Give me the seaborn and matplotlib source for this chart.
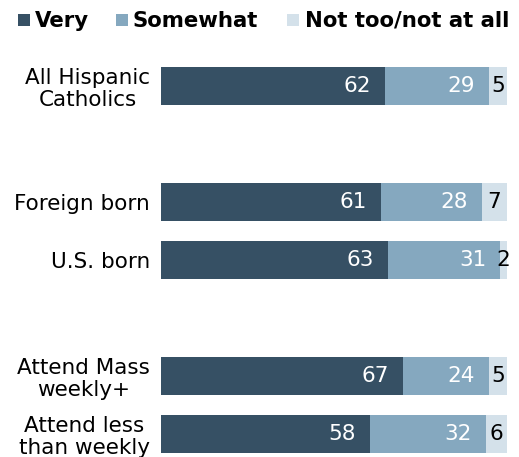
import matplotlib
matplotlib.use("Agg")
import matplotlib.pyplot as plt
import seaborn as sns
import pandas as pd
import numpy as np
from matplotlib.patches import Rectangle

categories = ["All Hispanic\nCatholics", "Foreign born", "U.S. born", "Attend Mass\nweekly+", "Attend less\nthan weekly"]
positions = [0, 2, 3, 5, 6]
very = [62, 61, 63, 67, 58]
somewhat = [29, 28, 31, 24, 32]
not_too = [5, 7, 2, 5, 6]
series_names = ["Very", "Somewhat", "Not too/not at all"]
colors = ["#365064", "#85a8bf", "#d4e1ea"]

sns.set_theme(style="white")
plt.rcParams['font.family'] = ['DejaVu Sans']

fig = plt.figure(figsize=(5.19, 4.57), dpi=100)
W, H = 519, 457
ax_left, ax_right = 161, 509
ax_top, ax_bottom = 57, 457
ax = fig.add_axes([ax_left / W, 1 - ax_bottom / H, (ax_right - ax_left) / W, (ax_bottom - ax_top) / H])

df = pd.DataFrame({"pos": positions, "very": very, "somewhat": somewhat, "not_too": not_too})
df["c2"] = df["very"] + df["somewhat"]
df["c3"] = df["c2"] + df["not_too"]

for col, color in zip(["c3", "c2", "very"], colors[::-1]):
    sns.barplot(data=df, x=col, y="pos", orient="h", native_scale=True, color=color,
                width=0.655, saturation=1, ax=ax, linewidth=0)

ax.set_xlim(0, 96.5)
ax.set_ylim(-0.5 + (ax_bottom - ax_top) / 58.0, -0.5)
ax.set_yticks(positions)
ax.set_yticklabels(categories, fontsize=15.5, ha="right", multialignment="center",
                   color="black", linespacing=1.15)
ax.tick_params(axis="y", length=0, pad=8)
ax.set_xticks([])
ax.set_xlabel("")
ax.set_ylabel("")
for s in ax.spines.values():
    s.set_visible(False)

fs = 15.5
for i, p in enumerate(positions):
    ax.annotate(str(very[i]), (very[i], p), xytext=(-10, 0), textcoords="offset points",
                ha="right", va="center", color="white", fontsize=fs)
    ax.annotate(str(somewhat[i]), (very[i] + somewhat[i], p), xytext=(-10, 0), textcoords="offset points",
                ha="right", va="center", color="white", fontsize=fs)
    ax.text(very[i] + somewhat[i] + not_too[i] / 2, p, str(not_too[i]),
            ha="center", va="center", color="black", fontsize=fs)

# legend drawn manually
sq_x = [18, 116, 287]
tx_x = [35, 133, 305]
for c, name, sx, tx in zip(colors, series_names, sq_x, tx_x):
    fig.patches.append(Rectangle((sx / W, 1 - 26 / H), 12 / W, 12 / H, transform=fig.transFigure,
                                 facecolor=c, edgecolor="none"))
    fig.text(tx / W, 1 - 21 / H, name, ha="left", va="center", fontsize=15.3,
             fontweight="bold", color="black")

fig.savefig("out.png", dpi=100)
